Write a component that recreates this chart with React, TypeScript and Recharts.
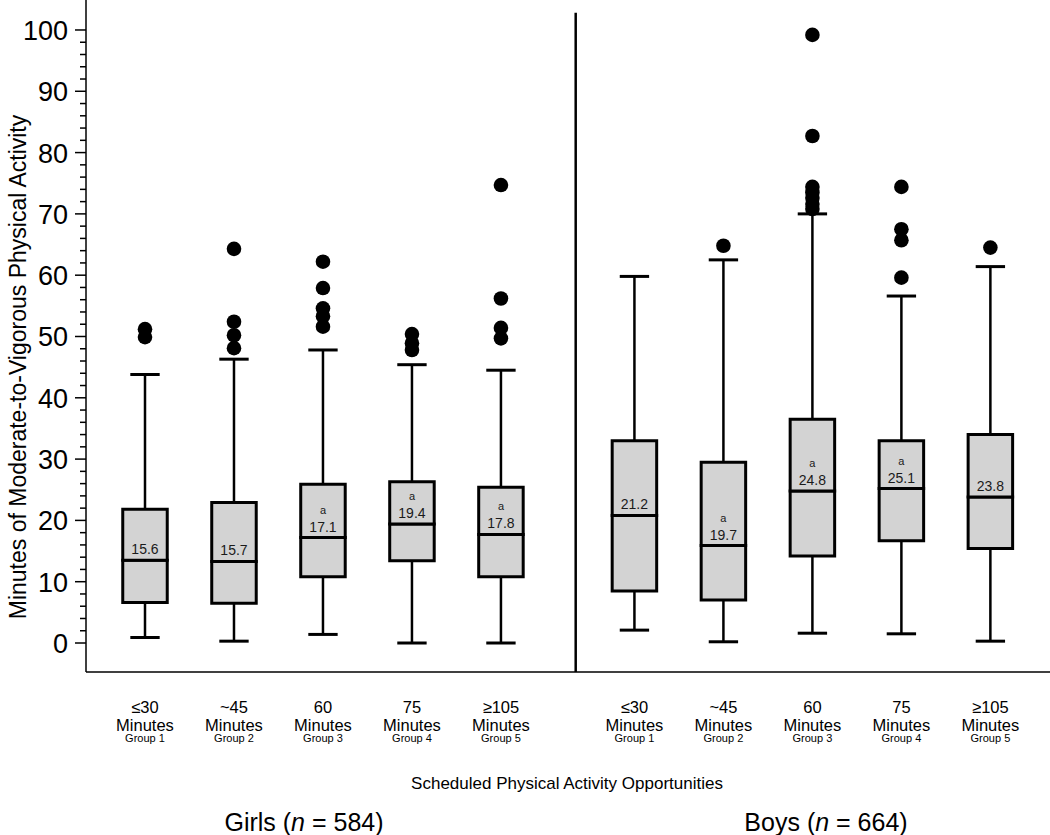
import React from 'react';
import { ComposedChart, XAxis, YAxis, Scatter, ReferenceArea, ReferenceLine } from 'recharts';

// ---- categories / tick labels ----
const groupTop = ['≤30', '~45', '60', '75', '≥105'];
const groupSub = ['Group 1', 'Group 2', 'Group 3', 'Group 4', 'Group 5'];
const girlsPos = [1, 2, 3, 4, 5];
const boysPos = [6.5, 7.5, 8.5, 9.5, 10.5];
const separatorPos = 5.84;
const majorTicks = [0, 10, 20, 30, 40, 50, 60, 70, 80, 90, 100];

// ---- girls ----
const girlsMin = [0.9, 0.3, 1.4, 0.0, 0.0];
const girlsQ1 = [6.6, 6.5, 10.8, 13.4, 10.8];
const girlsMedian = [13.5, 13.3, 17.2, 19.4, 17.7];
const girlsQ3 = [21.8, 22.9, 25.9, 26.3, 25.4];
const girlsMax = [43.8, 46.3, 47.8, 45.4, 44.5];
const girlsMean = ['15.6', '15.7', '17.1', '19.4', '17.8'];
const girlsSig = [false, false, true, true, true];
const girlsOutliers = [
  [51.2, 49.9],
  [64.3, 52.4, 50.2, 48.1],
  [62.2, 57.9, 54.6, 53.3, 51.6],
  [50.4, 48.9, 47.8],
  [74.7, 56.2, 51.4, 49.7],
];

// ---- boys ----
const boysMin = [2.1, 0.2, 1.6, 1.5, 0.3];
const boysQ1 = [8.5, 7.0, 14.2, 16.7, 15.4];
const boysMedian = [20.8, 15.9, 24.8, 25.2, 23.8];
const boysQ3 = [33.0, 29.5, 36.5, 33.0, 34.0];
const boysMax = [59.8, 62.5, 70.0, 56.6, 61.4];
const boysMean = ['21.2', '19.7', '24.8', '25.1', '23.8'];
const boysSig = [false, true, true, true, false];
const boysOutliers = [
  [],
  [64.8],
  [99.2, 82.7, 74.4, 73.5, 72.6, 71.6, 70.8],
  [74.4, 67.5, 65.7, 59.6],
  [64.5],
];

const FONT = '"Liberation Sans", Arial, Helvetica, sans-serif';
const BOX_HALF = 0.25;
const CAP_HALF = 0.165;

type Box = { pos: number; min: number; q1: number; med: number; q3: number; max: number; mean: string; sig: boolean; group: number };

const boxes: Box[] = [
  ...girlsPos.map((p, i) => ({ pos: p, min: girlsMin[i], q1: girlsQ1[i], med: girlsMedian[i], q3: girlsQ3[i], max: girlsMax[i], mean: girlsMean[i], sig: girlsSig[i], group: i })),
  ...boysPos.map((p, i) => ({ pos: p, min: boysMin[i], q1: boysQ1[i], med: boysMedian[i], q3: boysQ3[i], max: boysMax[i], mean: boysMean[i], sig: boysSig[i], group: i })),
];

const outlierData = [
  ...girlsPos.flatMap((p, i) => girlsOutliers[i].map((v) => ({ x: p, y: v }))),
  ...boysPos.flatMap((p, i) => boysOutliers[i].map((v) => ({ x: p, y: v }))),
];

const labelData = boxes.map((b) => ({ x: b.pos, y: b.med, mean: b.mean, sig: b.sig }));

const allXTicks = [...girlsPos, ...boysPos];
const allYTicks = Array.from({ length: 51 }, (_, i) => i * 2);

const YTick = (props: any) => {
  const { x, y, payload } = props;
  const v = payload.value;
  const major = v % 10 === 0;
  return (
    <g>
      <line x1={x - (major ? 11 : 6)} x2={x} y1={y} y2={y} stroke="#000" strokeWidth={1.5} />
      {major && (
        <text x={x - 18} y={y + 10} textAnchor="end" fontSize={27} fontFamily={FONT} fill="#000">
          {v}
        </text>
      )}
    </g>
  );
};

const XTick = (props: any) => {
  const { x, y, payload } = props;
  const idx = allXTicks.indexOf(payload.value);
  const g = idx % 5;
  return (
    <g fontFamily={FONT} fill="#000">
      <text x={x} y={y + 41} textAnchor="middle" fontSize={16.5}>{groupTop[g]}</text>
      <text x={x} y={y + 59} textAnchor="middle" fontSize={16.5}>Minutes</text>
      <text x={x} y={y + 70} textAnchor="middle" fontSize={11}>{groupSub[g]}</text>
    </g>
  );
};

const OutlierDot = (props: any) => {
  const { cx, cy } = props;
  return <circle cx={cx} cy={cy} r={7.3} fill="#000" />;
};

const MeanLabel = (props: any) => {
  const { cx, cy, payload } = props;
  return (
    <g fontFamily={FONT} fill="#1a1a1a">
      {payload.sig && (
        <text x={cx} y={cy - 24} textAnchor="middle" fontSize={11}>a</text>
      )}
      <text x={cx} y={cy - 6} textAnchor="middle" fontSize={14}>{payload.mean}</text>
    </g>
  );
};

export default function App() {
  return (
    <div style={{ position: 'absolute', left: 0, top: 0, width: 1050, height: 835, background: '#fff' }}>
      <ComposedChart width={1050} height={835} margin={{ top: 0, right: 0, bottom: 0, left: 0 }}>
        <XAxis
          dataKey="x"
          type="number"
          domain={[0.337, 11.17]}
          allowDataOverflow
          ticks={allXTicks}
          interval={0}
          tickLine={false}
          tickSize={0}
          tickMargin={0}
          height={163}
          axisLine={{ stroke: '#000', strokeWidth: 1.5 }}
          tick={<XTick />}
        />
        <YAxis
          dataKey="y"
          type="number"
          domain={[-4.73, 104.89]}
          allowDataOverflow
          ticks={allYTicks}
          interval={0}
          tickLine={false}
          tickSize={0}
          tickMargin={0}
          width={86}
          axisLine={{ stroke: '#000', strokeWidth: 1.5 }}
          tick={<YTick />}
        />
        <ReferenceLine
          segment={[{ x: separatorPos, y: 102.8 }, { x: separatorPos, y: -4.73 }]}
          stroke="#000"
          strokeWidth={2.5}
        />
        {boxes.map((b, i) => (
          <ReferenceLine key={'wl' + i} segment={[{ x: b.pos, y: b.min }, { x: b.pos, y: b.q1 }]} stroke="#000" strokeWidth={2.5} />
        ))}
        {boxes.map((b, i) => (
          <ReferenceLine key={'wu' + i} segment={[{ x: b.pos, y: b.q3 }, { x: b.pos, y: b.max }]} stroke="#000" strokeWidth={2.5} />
        ))}
        {boxes.map((b, i) => (
          <ReferenceLine key={'cl' + i} segment={[{ x: b.pos - CAP_HALF, y: b.min }, { x: b.pos + CAP_HALF, y: b.min }]} stroke="#000" strokeWidth={3} />
        ))}
        {boxes.map((b, i) => (
          <ReferenceLine key={'cu' + i} segment={[{ x: b.pos - CAP_HALF, y: b.max }, { x: b.pos + CAP_HALF, y: b.max }]} stroke="#000" strokeWidth={3} />
        ))}
        {boxes.map((b, i) => (
          <ReferenceArea
            key={'bl' + i}
            x1={b.pos - BOX_HALF}
            x2={b.pos + BOX_HALF}
            y1={b.q1}
            y2={b.med}
            fill="#d3d3d3"
            fillOpacity={1}
            stroke="#000"
            strokeWidth={3}
          />
        ))}
        {boxes.map((b, i) => (
          <ReferenceArea
            key={'bu' + i}
            x1={b.pos - BOX_HALF}
            x2={b.pos + BOX_HALF}
            y1={b.med}
            y2={b.q3}
            fill="#d3d3d3"
            fillOpacity={1}
            stroke="#000"
            strokeWidth={3}
          />
        ))}
        <Scatter data={outlierData} dataKey="y" shape={<OutlierDot />} isAnimationActive={false} />
        <Scatter data={labelData} dataKey="y" shape={<MeanLabel />} isAnimationActive={false} />
      </ComposedChart>

      <div
        style={{
          position: 'absolute',
          left: 18,
          top: 367,
          transform: 'translate(-50%, -50%) rotate(-90deg)',
          whiteSpace: 'nowrap',
          fontFamily: FONT,
          fontSize: 23,
          color: '#000',
          lineHeight: 1,
        }}
      >
        Minutes of Moderate-to-Vigorous Physical Activity
      </div>
      <div
        style={{
          position: 'absolute',
          left: 567,
          top: 783,
          transform: 'translate(-50%, -50%)',
          whiteSpace: 'nowrap',
          fontFamily: FONT,
          fontSize: 17,
          color: '#000',
          lineHeight: 1,
        }}
      >
        Scheduled Physical Activity Opportunities
      </div>
      <div
        style={{
          position: 'absolute',
          left: 304,
          top: 822,
          transform: 'translate(-50%, -50%)',
          whiteSpace: 'nowrap',
          fontFamily: FONT,
          fontSize: 25,
          color: '#000',
          lineHeight: 1,
        }}
      >
        Girls (<i>n</i> = 584)
      </div>
      <div
        style={{
          position: 'absolute',
          left: 826,
          top: 822,
          transform: 'translate(-50%, -50%)',
          whiteSpace: 'nowrap',
          fontFamily: FONT,
          fontSize: 25,
          color: '#000',
          lineHeight: 1,
        }}
      >
        Boys (<i>n</i> = 664)
      </div>
    </div>
  );
}
